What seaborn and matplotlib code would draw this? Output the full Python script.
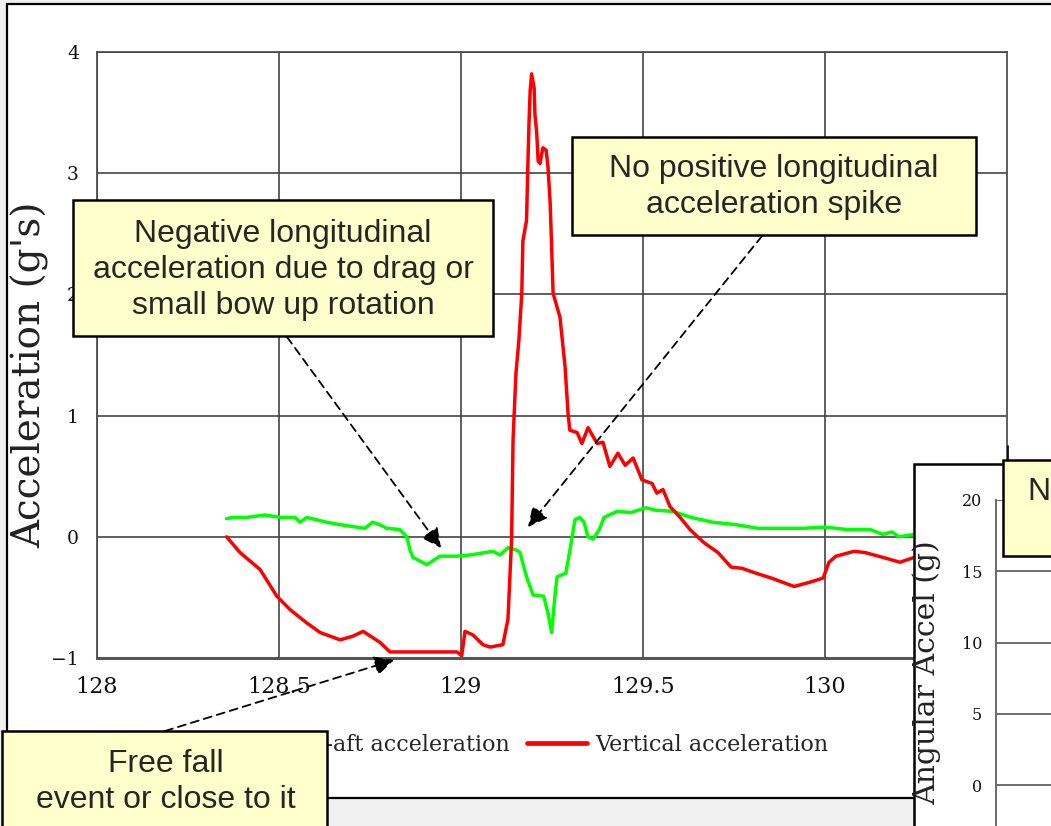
import matplotlib
matplotlib.use("Agg")
import matplotlib.pyplot as plt
from matplotlib.patches import Rectangle, FancyArrowPatch
from matplotlib.lines import Line2D
import pandas as pd
import seaborn as sns

# ---- data: accelerations (g) against time (s) ----
vert_time = [128.356, 128.393, 128.448, 128.494, 128.530, 128.576, 128.613, 128.668,
             128.703, 128.731, 128.777, 128.805, 128.868, 128.923, 128.989, 129.002,
             129.011, 129.033, 129.060, 129.080, 129.115, 129.129, 129.139, 129.143,
             129.151, 129.159, 129.167, 129.170, 129.180, 129.184, 129.187, 129.190,
             129.194, 129.201, 129.203, 129.208, 129.212, 129.217, 129.225, 129.234,
             129.239, 129.245, 129.249, 129.253, 129.272, 129.286, 129.294, 129.299,
             129.319, 129.332, 129.349, 129.374, 129.390, 129.409, 129.431, 129.451,
             129.473, 129.497, 129.525, 129.538, 129.555, 129.574, 129.602, 129.629,
             129.668, 129.706, 129.742, 129.772, 129.810, 129.852, 129.915, 129.964,
             129.995, 130.011, 130.030, 130.080, 130.110, 130.159, 130.206, 130.245,
             130.288]
vert_accel = [0.00, -0.13, -0.27, -0.49, -0.60, -0.71, -0.79, -0.85,
              -0.82, -0.78, -0.87, -0.95, -0.95, -0.95, -0.95, -0.98,
              -0.78, -0.81, -0.89, -0.91, -0.89, -0.68, -0.02, 0.80,
              1.35, 1.62, 2.01, 2.44, 2.61, 3.10, 3.43, 3.68,
              3.82, 3.70, 3.49, 3.33, 3.10, 3.08, 3.21, 3.19,
              3.05, 2.75, 2.39, 2.01, 1.81, 1.40, 1.02, 0.88,
              0.86, 0.77, 0.90, 0.77, 0.78, 0.58, 0.69, 0.59,
              0.65, 0.47, 0.44, 0.36, 0.39, 0.25, 0.16, 0.06,
              -0.05, -0.13, -0.25, -0.26, -0.30, -0.34, -0.41, -0.37,
              -0.34, -0.21, -0.16, -0.12, -0.13, -0.17, -0.21, -0.17,
              -0.19]

fore_time = [128.356, 128.374, 128.411, 128.462, 128.503, 128.544, 128.558, 128.576,
             128.604, 128.631, 128.668, 128.713, 128.736, 128.757, 128.777, 128.796,
             128.832, 128.851, 128.860, 128.868, 128.906, 128.942, 128.988, 129.025,
             129.088, 129.107, 129.129, 129.153, 129.162, 129.180, 129.198, 129.227,
             129.239, 129.249, 129.258, 129.264, 129.288, 129.301, 129.313, 129.326,
             129.338, 129.349, 129.363, 129.380, 129.393, 129.429, 129.467, 129.508,
             129.533, 129.582, 129.632, 129.692, 129.755, 129.816, 129.876, 129.940,
             130.000, 130.060, 130.124, 130.159, 130.184, 130.203, 130.245, 130.288]
fore_accel = [0.15, 0.16, 0.16, 0.18, 0.16, 0.16, 0.12, 0.16,
              0.14, 0.12, 0.10, 0.08, 0.07, 0.12, 0.10, 0.07,
              0.06, 0.00, -0.11, -0.17, -0.23, -0.16, -0.16, -0.15,
              -0.12, -0.15, -0.09, -0.11, -0.13, -0.33, -0.48, -0.49,
              -0.63, -0.79, -0.49, -0.33, -0.30, -0.08, 0.14, 0.16,
              0.12, 0.00, -0.02, 0.06, 0.16, 0.21, 0.20, 0.24,
              0.22, 0.21, 0.16, 0.12, 0.10, 0.07, 0.07, 0.07,
              0.08, 0.06, 0.06, 0.02, 0.04, 0.00, 0.02, 0.01]

series_names = ["Fore-aft acceleration", "Vertical acceleration"]
series_colors = ["#00ff00", "#ff0000"]

x_ticks = [128, 128.5, 129, 129.5, 130]
y_ticks = [-1, 0, 1, 2, 3, 4]
ang_ticks = [0, 5, 10, 15, 20]

callout_texts = [
    "Negative longitudinal\nacceleration due to drag or\nsmall bow up rotation",
    "No positive longitudinal\nacceleration spike",
    "Free fall\nevent or close to it",
]

# ---- figure helpers (pixel positions -> figure fraction) ----
W, H = 1051, 826


def fx(px):
    return px / W


def fy(py):
    return 1 - py / H


sns.set_style("white")
plt.rcParams["font.family"] = ["DejaVu Serif"]
plt.rcParams["axes.unicode_minus"] = True

fig = plt.figure(figsize=(W / 100, H / 100), dpi=100, facecolor="#f0f0f0")

# slide frame holding the chart
fig.add_artist(Rectangle((fx(7), fy(798)), fx(1080) - fx(7), fy(4) - fy(798),
                         transform=fig.transFigure, facecolor="white",
                         edgecolor="black", lw=1.6, zorder=-1))

# ---- main acceleration chart ----
ax = fig.add_axes([fx(97), fy(658), fx(1007) - fx(97), fy(52) - fy(658)])
ax.set_facecolor("none")

df = pd.concat([
    pd.DataFrame({"time": fore_time, "accel": fore_accel, "series": series_names[0]}),
    pd.DataFrame({"time": vert_time, "accel": vert_accel, "series": series_names[1]}),
], ignore_index=True)

sns.lineplot(data=df, x="time", y="accel", hue="series", hue_order=series_names,
             palette=series_colors, estimator=None, linewidth=2.5, legend=False,
             ax=ax)

ax.set_xlim(128, 130.5)
ax.set_ylim(-1, 4)
ax.set_xticks(x_ticks)
ax.set_yticks(y_ticks)
ax.set_xticklabels([f"{t:g}" for t in x_ticks])
ax.set_axisbelow(True)
ax.grid(True, color="#444444", lw=1.2)
for side in ["left", "right", "top"]:
    ax.spines[side].set_color("#444444")
    ax.spines[side].set_linewidth(1.2)
ax.spines["bottom"].set_color("#555555")
ax.spines["bottom"].set_linewidth(2.2)
ax.tick_params(axis="x", direction="out", length=6, width=1.2, color="#444444",
               pad=7, labelsize=16, labelcolor="#111111")
ax.tick_params(axis="y", direction="out", length=5, width=1.2, color="#444444",
               pad=8, labelsize=13.5, labelcolor="#111111")
ax.set_xlabel("")
ax.set_ylabel("Acceleration (g's)", fontsize=28, color="#222222")
ax.yaxis.set_label_coords(-0.052, 0.467)

legend_handles = [Line2D([], [], color=c, lw=3.4) for c in series_colors]
ax.legend(legend_handles, series_names, loc="center right",
          bbox_to_anchor=(fx(848), fy(745)), bbox_transform=fig.transFigure,
          ncol=2, frameon=False, fontsize=16, handlelength=2.7,
          handletextpad=0.35, columnspacing=0.8)

# ---- callout boxes and dashed arrows ----
box_style = dict(facecolor="#ffffcc", edgecolor="black", lw=1.8, zorder=3)
callout_boxes = [(73, 200, 493, 336), (572, 137, 976, 235), (2, 731, 327, 860)]
callout_centers = [(283, 270), (774, 187), (166, 782)]
for (x0, y0, x1, y1), (cx, cy), txt in zip(callout_boxes, callout_centers, callout_texts):
    fig.add_artist(Rectangle((fx(x0), fy(y1)), fx(x1) - fx(x0), fy(y0) - fy(y1),
                             transform=fig.transFigure, **box_style))
    fig.text(fx(cx), fy(cy), txt, ha="center", va="center", fontsize=23,
             family="Liberation Sans", linespacing=1.26, zorder=4)

arrow_paths = [((287, 337), (441, 548)), ((762, 236), (528, 527)), ((165, 731), (394, 660))]
for (x0, y0), (x1, y1) in arrow_paths:
    fig.add_artist(FancyArrowPatch((fx(x0), fy(y0)), (fx(x1), fy(y1)),
                                   transform=fig.transFigure, arrowstyle="-|>",
                                   mutation_scale=30, linestyle=(0, (4.5, 3)),
                                   lw=1.3, color="black", shrinkA=0, shrinkB=0,
                                   zorder=4))

# ---- angular acceleration panel on the right ----
fig.add_artist(Rectangle((fx(914), fy(900)), fx(1100) - fx(914), fy(464) - fy(900),
                         transform=fig.transFigure, facecolor="white",
                         edgecolor="black", lw=1.8, zorder=5))
ax2 = fig.add_axes([fx(996), 0, fx(1051) - fx(996), fy(500)])
ax2.set_zorder(6)
ax2.set_facecolor("none")
ax2.set_xlim(0, 1)
ax2.set_ylim(-2.877, 20)
ax2.set_yticks(ang_ticks)
ax2.set_xticks([])
ax2.grid(True, axis="y", color="#555555", lw=1.2)
for side in ["top", "right", "bottom"]:
    ax2.spines[side].set_visible(False)
ax2.spines["left"].set_color("#6a6a6a")
ax2.spines["left"].set_linewidth(1.4)
ax2.tick_params(axis="y", direction="out", length=6, width=1.2, color="#6a6a6a",
                pad=4, labelsize=11.5, labelcolor="#111111")
ax2.set_ylabel("Angular Accel (g)", fontsize=21.5, color="#222222")
ax2.yaxis.set_label_coords(-1.0, 0.47)

fig.add_artist(Rectangle((fx(1003), fy(556)), fx(1100) - fx(1003), fy(460) - fy(556),
                         transform=fig.transFigure, facecolor="#ffffcc",
                         edgecolor="black", lw=1.8, zorder=7))
fig.text(fx(1027), fy(500), "N", ha="left", va="baseline", fontsize=23,
         family="Liberation Sans", zorder=8)
fig.add_artist(Line2D([fx(1008), fx(1008)], [fy(446), fy(460)],
                      transform=fig.transFigure, color="black", lw=1.2, zorder=7))

fig.savefig("out.png", dpi=100, facecolor=fig.get_facecolor())
